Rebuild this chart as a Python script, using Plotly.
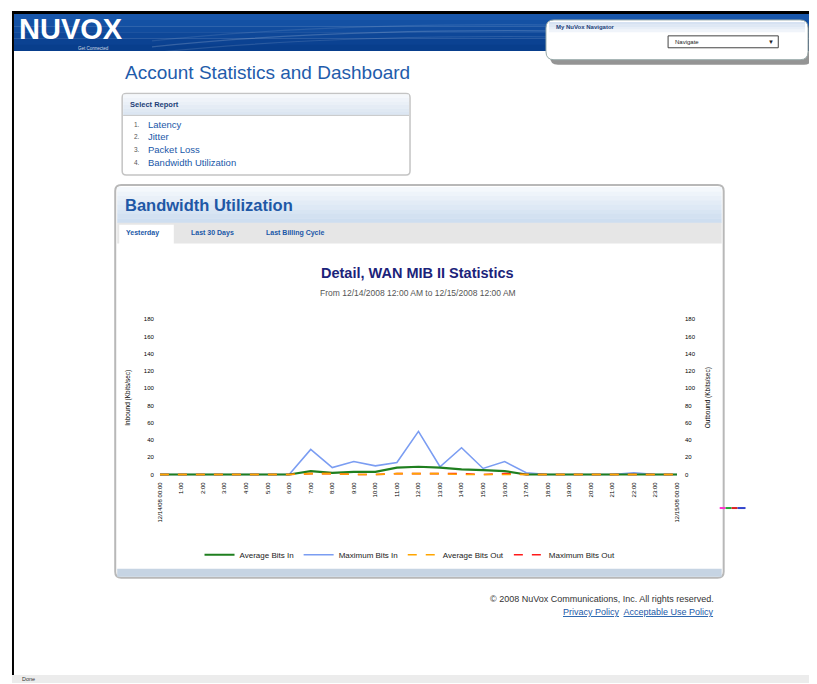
import plotly.graph_objects as go

# ---------------- data ----------------
hours = list(range(25))
x_tick_labels = ["12/14/08 00:00"] + [f"{h}:00" for h in range(1, 24)] + ["12/15/08 00:00"]
avg_in = [0, 0, 0, 0, 0, 0, 0, 4, 2, 3, 3, 8, 9, 8, 6, 5, 4, 0, 0, 0, 0, 0, 0, 0, 0]
max_in = [0, 0, 0, 0, 0, 0, 0, 29, 8, 15, 10, 14, 50, 9, 31, 7, 15, 2, 0, 0, 0, 0, 2, 0, 0]
avg_out = [0, 0, 0, 0, 0, 0, 0, 1, 1, 0, 0, 1, 1, 1, 0, 0, 0, 0, 0, 0, 0, 0, 0, 0, 0]
max_out = [0, 0, 0, 0, 0, 0, 0, 1, 1, 0, 0, 1, 1, 1, 1, 0, 1, 0, 0, 0, 0, 0, 0, 0, 0]
y_ticks = [0, 20, 40, 60, 80, 100, 120, 140, 160, 180]
series_names = ["Average Bits In", "Maximum Bits In", "Average Bits Out", "Maximum Bits Out"]
report_items = ["Latency", "Jitter", "Packet Loss", "Bandwidth Utilization"]
tabs = ["Yesterday", "Last 30 Days", "Last Billing Cycle"]

# the page body adds an 8px margin, so page pixel p maps to figure pixel p - 8
OFF = 8
W, H = 817 - OFF, 684 - OFF
FONT = "Liberation Sans, Arial, sans-serif"


def X(p):
    return (p - OFF) / W


def Y(p):
    return 1 - (p - OFF) / H


shapes = []
annotations = []


def rect(x0, y0, x1, y1, fill, line=None, lw=0):
    shapes.append(dict(type="rect", xref="paper", yref="paper",
                       x0=X(x0), x1=X(x1), y0=Y(y1), y1=Y(y0),
                       fillcolor=fill, line=dict(color=line or fill, width=lw),
                       layer="below"))


def rrect(x0, y0, x1, y1, r, fill, line=None, lw=1):
    p = (f"M {X(x0 + r)},{Y(y0)} L {X(x1 - r)},{Y(y0)} Q {X(x1)},{Y(y0)} {X(x1)},{Y(y0 + r)} "
         f"L {X(x1)},{Y(y1 - r)} Q {X(x1)},{Y(y1)} {X(x1 - r)},{Y(y1)} "
         f"L {X(x0 + r)},{Y(y1)} Q {X(x0)},{Y(y1)} {X(x0)},{Y(y1 - r)} "
         f"L {X(x0)},{Y(y0 + r)} Q {X(x0)},{Y(y0)} {X(x0 + r)},{Y(y0)} Z")
    shapes.append(dict(type="path", xref="paper", yref="paper", path=p,
                       fillcolor=fill, line=dict(color=line or fill, width=lw if line else 0),
                       layer="below"))


def gradient(x0, y0, x1, y1, c_top, c_bot, n=8):
    def mix(a, b, t):
        return tuple(int(a[i] + (b[i] - a[i]) * t) for i in range(3))
    h = (y1 - y0) / n
    for i in range(n):
        c = mix(c_top, c_bot, i / (n - 1))
        rect(x0, y0 + i * h, x1, y0 + (i + 1) * h + 0.3, f"rgb{c}")


def hline(x0, x1, y, color, w=1):
    shapes.append(dict(type="line", xref="paper", yref="paper", x0=X(x0), x1=X(x1),
                       y0=Y(y), y1=Y(y), line=dict(color=color, width=w), layer="below"))


def text(x, y, s, size, color, xanchor="left", family=FONT):
    annotations.append(dict(x=X(x), y=Y(y), xref="paper", yref="paper", text=s,
                            showarrow=False, xanchor=xanchor, yanchor="middle",
                            borderpad=0,
                            font=dict(size=size, color=color, family=family)))


# ---------------- page chrome ----------------
# header banner
gradient(11, 11, 817, 48, (24, 86, 170), (8, 62, 140), n=6)
for yy, op in [(30, 0.18), (36, 0.12), (24, 0.10)]:
    shapes.append(dict(type="path", xref="paper", yref="paper",
                       path=f"M {X(150)},{Y(yy + 14)} Q {X(420)},{Y(yy - 14)} {X(817)},{Y(yy + 6)}",
                       line=dict(color=f"rgba(255,255,255,{op})", width=1.2), layer="below"))
text(15, 26, "<b>NUVOX</b>", 29, "white")
text(74, 45.5, "Get Connected", 4.5, "rgba(255,255,255,0.8)")
# black page border
rect(9, 8, 817, 11, "black")
rect(9, 8, 11, 676, "black")
# status bar
rect(9, 676, 817, 684, "#ececec")
text(18, 680, "Done", 5.5, "#333")

# navigator box
rrect(551, 22, 815, 62, 8, "rgba(60,60,60,0.55)")
rrect(547, 17, 811, 57, 8, "white", "#9aa", 1)
gradient(550, 19, 808, 29, (214, 226, 242), (240, 244, 250), n=4)
text(556, 24, "<b>My NuVox Navigator</b>", 6, "#24427a")
rect(670, 33, 781, 45, "white", "#444", 1)
text(676, 39, "Navigate", 6, "#222")
text(778, 39, "▼", 6, "#222", xanchor="right")

# page title
text(122, 70, "Account Statistics and Dashboard", 19, "#1f5cab")

# select report box
rrect(120, 91, 410, 173, 4, "white", "#c4c4c4", 1.5)
gradient(121, 92, 409, 113, (244, 247, 251), (220, 230, 242), n=6)
hline(121, 409, 113, "#c8c8c8", 1)
text(127, 102, "<b>Select Report</b>", 7.5, "#1d3f78")
for i, item in enumerate(report_items):
    yy = 122 + i * 12.7
    text(131, yy, f"{i + 1}.", 6.5, "#555")
    text(145, yy, item, 9.5, "#1a58a8")

# bandwidth panel
rrect(113, 183, 726, 578, 6, "white", "#b8b8b8", 2)
gradient(115, 185, 724, 221, (244, 248, 252), (206, 222, 240), n=8)
text(122, 203, "<b>Bandwidth Utilization</b>", 16.5, "#1f58a6")
rect(115, 221, 724, 242, "#e6e6e6")
rect(117, 223, 172, 243, "white")
for tx, t in zip([123, 188, 264], tabs):
    text(tx, 231, f"<b>{t}</b>", 7, "#1a58a8")
rect(115, 569, 724, 577, "#c6d4e3")
# stray colour marks right of panel
for (a, b, c) in [(722, 728, "#ff33cc"), (728, 734, "#22aa33"), (734, 740, "#dd2222"), (740, 748, "#3344cc")]:
    hline(a, b, 508, c, 2)

# footer
text(717, 600, "© 2008 NuVox Communications, Inc. All rights reserved.", 9, "#333", xanchor="right")
text(717, 613, "<span style='text-decoration:underline'>Privacy Policy</span>  "
     "<span style='text-decoration:underline'>Acceptable Use Policy</span>", 9, "#1a58a8",
     xanchor="right")

# chart titles
text(418, 272, "<b>Detail, WAN MIB II Statistics</b>", 14.5, "#1b237a", xanchor="center")
text(418, 292, "From 12/14/2008 12:00 AM to 12/15/2008 12:00 AM", 8.5, "#555", xanchor="center")

# ---------------- traces ----------------
fig = go.Figure()
colors = ["#1f7f1f", "#7b9df2", "#ffa500", "#ff1a1a"]
data = [avg_in, max_in, avg_out, max_out]
dashes = ["solid", "solid", "dash", "dash"]
widths = [2.2, 1.6, 1.6, 1.6]
axes = ["y", "y", "y2", "y2"]
for idx in [3, 2, 1, 0]:
    fig.add_trace(go.Scatter(x=hours, y=data[idx], mode="lines", name=series_names[idx],
                             line=dict(color=colors[idx], dash=dashes[idx], width=widths[idx]),
                             yaxis=axes[idx], legendrank=idx + 1))

tick_font = dict(size=6, color="#000", family=FONT)
yr = [-2, 180]
fig.update_layout(
    width=W, height=H, margin=dict(l=0, r=0, t=0, b=0),
    paper_bgcolor="white", plot_bgcolor="rgba(0,0,0,0)",
    shapes=shapes, annotations=annotations,
    showlegend=True,
    legend=dict(orientation="h", x=X(410), y=Y(555), xanchor="center", yanchor="middle",
                font=dict(size=8, color="#222", family=FONT), bgcolor="rgba(0,0,0,0)",
                itemwidth=30, tracegroupgap=0),
    xaxis=dict(domain=[X(158), X(679)], range=[0, 24], tickmode="array", tickvals=hours,
               ticktext=x_tick_labels, tickangle=-90, tickfont=tick_font, ticklabelstandoff=4,
               showgrid=False, zeroline=False, showline=False, ticks=""),
    yaxis=dict(domain=[Y(476), Y(318)], range=yr, tickmode="array", tickvals=y_ticks,
               tickfont=tick_font, showgrid=False, zeroline=False, showline=False,
               ticklabelstandoff=5,
               title=dict(text="Inbound (Kbits/sec)", font=dict(size=6.5, color="#000", family=FONT),
                          standoff=12)),
    yaxis2=dict(overlaying="y", side="right", range=yr, tickmode="array", tickvals=y_ticks,
                tickfont=tick_font, showgrid=False, zeroline=False, showline=False,
                ticklabelstandoff=7,
                title=dict(text="Outbound (Kbits/sec)", font=dict(size=6.5, color="#000", family=FONT),
                           standoff=10)),
    font=dict(family=FONT),
)

fig.write_html("out.html")
